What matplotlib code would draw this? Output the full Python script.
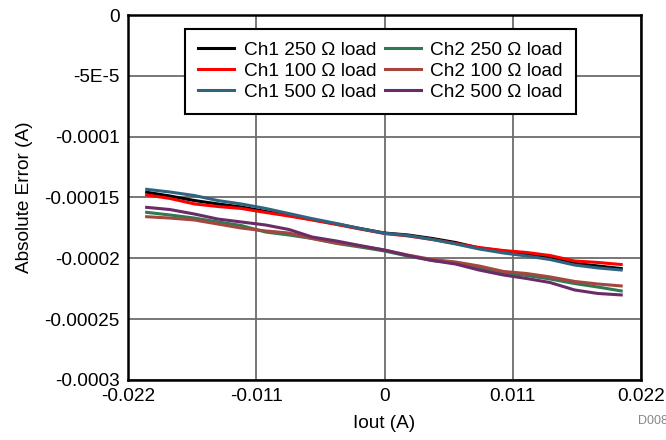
import numpy as np
import matplotlib.pyplot as plt

plt.rcParams['font.family'] = ['Liberation Sans', 'DejaVu Sans']

# output current (A)
iout = [-0.0204, -0.0184, -0.0163, -0.0143, -0.0123, -0.0102, -0.0082,
        -0.0062, -0.0041, -0.0021, 0.0000, 0.0020, 0.0041, 0.0061,
        0.0081, 0.0102, 0.0122, 0.0142, 0.0163, 0.0183, 0.0203]

# absolute error, in units of 1e-4 A
ch1_250 = [-1.457, -1.488, -1.525, -1.553, -1.578, -1.615, -1.648, -1.681,
           -1.718, -1.755, -1.792, -1.808, -1.837, -1.870, -1.915, -1.940,
           -1.964, -1.989, -2.042, -2.063, -2.084]
ch1_100 = [-1.479, -1.508, -1.553, -1.574, -1.590, -1.623, -1.652, -1.685,
           -1.722, -1.759, -1.796, -1.816, -1.845, -1.878, -1.911, -1.936,
           -1.952, -1.977, -2.022, -2.034, -2.051]
ch1_500 = [-1.433, -1.455, -1.484, -1.525, -1.553, -1.590, -1.632, -1.674,
           -1.714, -1.755, -1.794, -1.812, -1.845, -1.882, -1.923, -1.956,
           -1.981, -2.010, -2.055, -2.079, -2.096]
ch2_250 = [-1.622, -1.644, -1.669, -1.701, -1.730, -1.784, -1.808, -1.837,
           -1.878, -1.907, -1.940, -1.981, -2.018, -2.038, -2.075, -2.121,
           -2.141, -2.170, -2.207, -2.236, -2.268]
ch2_100 = [-1.658, -1.669, -1.685, -1.718, -1.751, -1.775, -1.792, -1.837,
           -1.874, -1.899, -1.932, -1.973, -2.010, -2.030, -2.063, -2.108,
           -2.125, -2.153, -2.190, -2.211, -2.227]
ch2_500 = [-1.581, -1.599, -1.636, -1.677, -1.701, -1.726, -1.763, -1.825,
           -1.858, -1.895, -1.932, -1.977, -2.018, -2.047, -2.096, -2.137,
           -2.166, -2.199, -2.260, -2.289, -2.301]

labels = ["Ch1 250 \u03a9 load", "Ch1 100 \u03a9 load", "Ch1 500 \u03a9 load",
          "Ch2 250 \u03a9 load", "Ch2 100 \u03a9 load", "Ch2 500 \u03a9 load"]
colors = ["#000000", "#ff0000", "#2f6480", "#2f7a52", "#a5473f", "#6a2b68"]
series = [ch1_250, ch1_100, ch1_500, ch2_250, ch2_100, ch2_500]

xticks = [-0.022, -0.011, 0, 0.011, 0.022]
xticklabels = ["-0.022", "-0.011", "0", "0.011", "0.022"]
yticks = [0, -5e-5, -1e-4, -1.5e-4, -2e-4, -2.5e-4, -3e-4]
yticklabels = ["0", "-5E-5", "-0.0001", "-0.00015", "-0.0002", "-0.00025", "-0.0003"]

fig = plt.figure(figsize=(6.66, 4.4), dpi=100)
ax = fig.add_axes([0.1922, 0.1364, 0.7703, 0.8295])

for vals, lab, c in zip(series, labels, colors):
    ax.plot(iout, np.array(vals) * 1e-4, color=c, lw=2.2, label=lab)

ax.set_xlim(-0.022, 0.022)
ax.set_ylim(-0.0003, 0)
ax.set_xticks(xticks)
ax.set_xticklabels(xticklabels)
ax.set_yticks(yticks)
ax.set_yticklabels(yticklabels)
ax.tick_params(labelsize=13.7, length=0, pad=6)
ax.grid(True, color="#6c6c6c", lw=1.3)
ax.set_axisbelow(True)
for sp in ax.spines.values():
    sp.set_linewidth(1.8)
    sp.set_color("black")

ax.set_xlabel("Iout (A)", fontsize=13.7, labelpad=7)
ax.set_ylabel("Absolute Error (A)", fontsize=13.7, labelpad=8)

leg = ax.legend(ncol=2, loc="upper left", bbox_to_anchor=(0.111, 0.962),
                borderaxespad=0, fontsize=13.7, frameon=True, fancybox=False,
                handlelength=1.9, handletextpad=0.5, columnspacing=0.45,
                labelspacing=0.18, borderpad=0.68)
leg.get_frame().set_edgecolor("black")
leg.get_frame().set_linewidth(1.5)
leg.get_frame().set_alpha(1)

# figure id, partly cut at the right edge as in the original
fig.text(0.958, 0.043, "D008", fontsize=9, color="#888888", ha="left", va="center")

fig.savefig("out.png", dpi=100)
